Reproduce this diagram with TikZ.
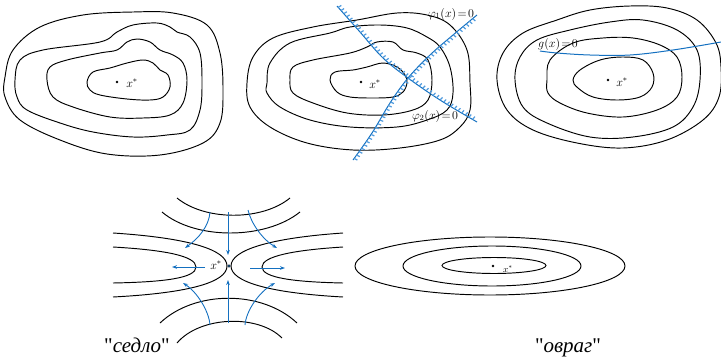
\documentclass[tikz,border=0pt]{standalone}
\usepackage{fontspec}
\setmainfont{Liberation Serif}
\newfontfamily\qfont{Liberation Serif}[Ligatures=TeXOff]
\usetikzlibrary{decorations.markings,arrows.meta}
\definecolor{cblue}{RGB}{20,112,192}
\definecolor{hblue}{RGB}{80,155,222}
\tikzset{
 contour/.style={line width=0.95pt, black},
 bline/.style={cblue, line width=1pt},
 hatchup/.style={postaction={decorate,decoration={markings,mark=between positions 0.01 and 0.99 step 4.2pt with {\draw[hblue,line width=1.2pt] (0,0) -- (0.6pt,3.6pt);}}}},
 hatchdown/.style={postaction={decorate,decoration={markings,mark=between positions 0.01 and 0.99 step 4.2pt with {\draw[hblue,line width=1.2pt] (0,0) -- (0.6pt,-3.6pt);}}}},
 flow/.style={cblue, line width=0.9pt, -{Stealth[length=5pt,width=3.6pt]}},
 xlab/.style={font=\fontsize{12}{13}\selectfont, inner sep=0pt},
 eqlab/.style={font=\fontsize{11.5}{12}\selectfont, inner sep=0pt},
 dotmark/.style={circle, fill=black, inner sep=0pt, minimum size=2.6pt},
 biglab/.style={font=\fontsize{21}{23}\selectfont, inner sep=0pt, anchor=base},
}
\newcommand{\sq}{{\qfont"}}
\begin{document}
\begin{tikzpicture}[x=1pt,y=-1pt]
\useasboundingbox (0,0) rectangle (721,359);
% ---------- panel 1 ----------
\draw[contour] plot[smooth cycle, tension=0.6] coordinates {(5,77) (13,50) (40,27) (83,15) (133,12) (173,13) (207,25) (220,53) (223,90) (220,123) (203,143) (160,155) (107,154) (60,140) (20,120) (5,97)};
\draw[contour] plot[smooth cycle, tension=0.6] coordinates {(15,80) (20,60) (43,50) (100,42) (117,32) (133,25) (157,23) (170,27) (177,32) (190,37) (200,53) (202,83) (200,110) (190,130) (167,135) (133,137) (93,132) (60,123) (27,110) (17,97)};
\draw[contour] plot[smooth cycle, tension=0.6] coordinates {(47,80) (50,67) (67,60) (100,53) (117,50) (127,42) (137,39) (150,42) (160,50) (173,55) (183,63) (187,80) (183,103) (170,115) (143,118) (110,117) (73,107) (53,97)};
\draw[contour] plot[smooth cycle, tension=0.6] coordinates {(87,82) (93,72) (110,68) (127,63) (143,60) (153,63) (160,70) (168,75) (170,87) (163,97) (150,100) (127,99) (100,95) (90,90)};
\node[dotmark] (d1) at (117,82) {};
\node[xlab] (l1) at (132,83) {$x^{*}$};
% ---------- panel 2 ----------
\draw[contour] plot[smooth cycle, tension=0.6] coordinates {(247,83) (253,57) (273,38) (313,27) (357,20) (397,13) (427,15) (450,25) (467,50) (470,83) (470,110) (460,127) (440,140) (400,148) (353,150) (307,143) (270,127) (250,107)};
\draw[contour] plot[smooth cycle, tension=0.6] coordinates {(267,83) (270,63) (290,43) (330,33) (350,27) (380,25) (407,28) (427,37) (440,47) (450,67) (453,93) (447,110) (427,120) (397,127) (350,127) (310,120) (280,107) (267,93)};
\draw[contour] plot[smooth cycle, tension=0.6] coordinates {(290,80) (293,67) (313,60) (350,53) (367,47) (377,42) (393,42) (403,50) (417,53) (428,60) (432,80) (428,100) (413,110) (383,115) (347,113) (313,103) (293,93)};
\draw[contour] plot[smooth cycle, tension=0.6] coordinates {(330,80) (335,72) (353,70) (367,67) (383,63) (397,67) (405,75) (407,83) (403,92) (393,97) (373,98) (350,97) (337,92)};
\node[dotmark] (d2) at (361,82) {};
\node[xlab] (l2) at (375,84) {$x^{*}$};
\draw[bline, hatchup] plot[smooth, tension=0.6] coordinates {(337,6) (360,32) (383,58) (408,78) (440,100) (477,122)};
\draw[bline, hatchdown] plot[smooth, tension=0.6] coordinates {(353,160) (372,133) (390,103) (408,78) (430,55) (453,35) (477,15)};
\node[eqlab] (p1) at (451,14) {$\varphi_1(x)\!=\!0$};
\node[eqlab] (p2) at (435,116) {$\varphi_2(x)\!=\!0$};
% ---------- panel 3 ----------
\draw[contour] plot[smooth cycle, tension=0.6] coordinates {(497,80) (503,53) (523,33) (557,20) (590,10) (630,6) (667,8) (697,20) (716,43) (721,67) (719,97) (703,120) (667,140) (623,148) (577,143) (533,130) (507,110)};
\draw[contour] plot[smooth cycle, tension=0.6] coordinates {(515,80) (520,57) (537,40) (570,30) (610,22) (643,20) (677,30) (697,50) (700,80) (693,107) (673,127) (633,137) (590,137) (547,123) (523,107)};
\draw[contour] plot[smooth cycle, tension=0.6] coordinates {(547,80) (550,60) (573,43) (603,38) (633,38) (660,45) (677,57) (682,77) (677,97) (657,110) (623,117) (587,113) (560,103) (548,93)};
\draw[contour] plot[smooth cycle, tension=0.6] coordinates {(573,80) (580,70) (600,60) (623,57) (643,60) (653,73) (652,87) (640,97) (617,100) (593,97) (578,88)};
\node[dotmark] (d3) at (608,80) {};
\node[xlab] (l3) at (622,82) {$x^{*}$};
\draw[bline] plot[smooth, tension=0.6] coordinates {(540,51) (557,53) (590,55) (630,55) (673,50) (721,42)};
\node[eqlab] (g) at (558,44) {$g(x)\!=\!0$};
% ---------- saddle ----------
\draw[contour] (177,198) .. controls (205,221) and (262,221) .. (290,198);
\draw[contour] (162,212) .. controls (195,240) and (265,240) .. (300,212);
\draw[contour] (160,323) .. controls (195,290) and (262,290) .. (297,323);
\draw[contour] (177,343) .. controls (200,316) and (258,314) .. (282,338);
\draw[contour] (113,233) .. controls (190,238) and (227,250) .. (227,266) .. controls (227,282) and (190,293) .. (113,297);
\draw[contour] (113,247) .. controls (165,250) and (196,256) .. (196,267) .. controls (196,278) and (165,282) .. (113,283);
\draw[contour] (343,233) .. controls (270,238) and (231,250) .. (231,266) .. controls (231,282) and (270,293) .. (343,297);
\draw[contour] (343,247) .. controls (295,250) and (262,256) .. (262,267) .. controls (262,278) and (295,282) .. (343,283);
\node[circle, draw=black, fill=cblue, inner sep=0pt, minimum size=2.8pt] (s0) at (229,266) {};
\node[xlab] (sl) at (216,265) {$x^{*}$};
\coordinate (t0) at (228,212); \coordinate (t1) at (228,255);
\coordinate (b0) at (228,323); \coordinate (b1) at (228,280);
\coordinate (le0) at (205,267); \coordinate (le1) at (172,267);
\coordinate (r0) at (250,268); \coordinate (r1) at (285,268);
\draw[flow] (t0) -- (t1);
\draw[flow] (b0) -- (b1);
\draw[flow] (le0) -- (le1);
\draw[flow] (r0) -- (r1);
\draw[flow] (210,212) .. controls (209,226) and (199,238) .. (185,248);
\draw[flow] (248,210) .. controls (251,223) and (262,239) .. (277,248);
\draw[flow] (210,325) .. controls (209,311) and (197,292) .. (183,283);
\draw[flow] (245,325) .. controls (246,311) and (259,292) .. (275,283);
\node[biglab] (sedlo) at (137,352) {\sq\textit{седло}\sq};
% ---------- ravine ----------
\draw[contour] (490,266) ellipse [x radius=135, y radius=29];
\draw[contour] (492,266) ellipse [x radius=89, y radius=20];
\draw[contour] (494,265.5) ellipse [x radius=52, y radius=8];
\node[dotmark] (d5) at (493,266) {};
\node[xlab, font=\fontsize{9}{10}\selectfont] (l5) at (508,269) {$x^{*}$};
\node[biglab] (ovrag) at (568,352) {\sq\textit{овраг}\sq};
\end{tikzpicture}
\end{document}
